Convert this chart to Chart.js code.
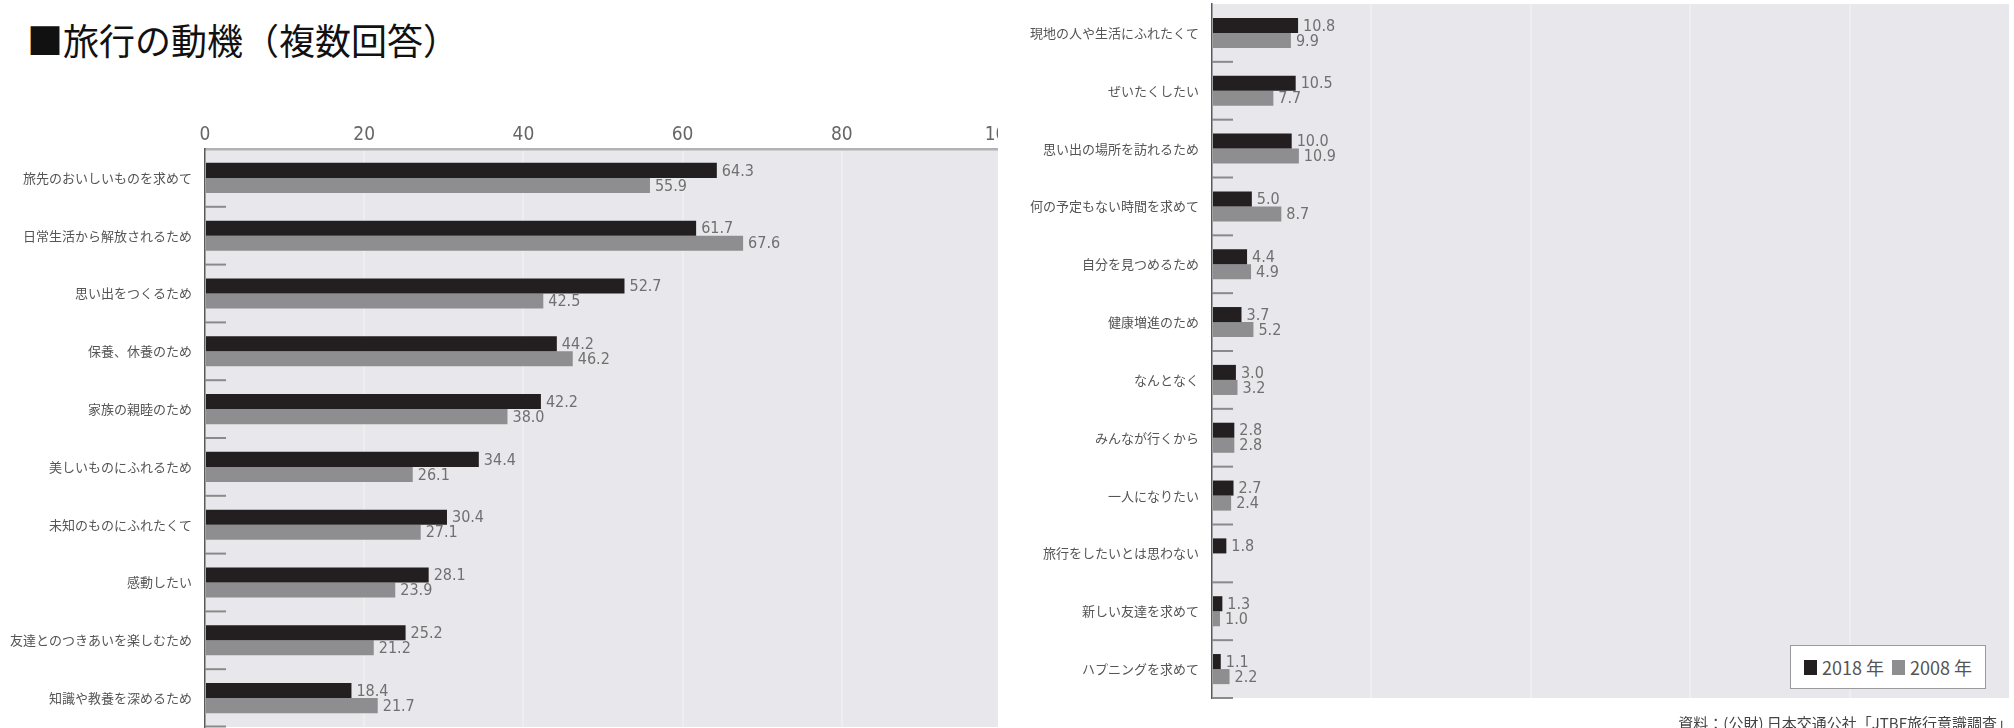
<!DOCTYPE html>
<html><head><meta charset="utf-8">
<script src="https://cdn.jsdelivr.net/npm/chart.js@4"></script>
<style>
html,body{margin:0;padding:0;background:#fff;width:2014px;height:728px;overflow:hidden;position:relative;font-family:"Noto Sans CJK JP",sans-serif;}
#title{position:absolute;left:27px;top:21px;font-size:36px;line-height:36px;font-weight:400;color:#111;white-space:nowrap;}
#leftWrap{position:absolute;left:0;top:0;width:998px;height:728px;overflow:hidden;}
#rightWrap{position:absolute;left:1000px;top:0;width:1014px;height:728px;}
#legend{position:absolute;left:1790px;top:645px;width:194px;height:42px;border:1px solid #9a9a9a;background:#fff;display:flex;align-items:center;justify-content:center;gap:8px;font-size:18px;color:#555;white-space:nowrap;}
#legend .it{display:flex;align-items:center;gap:5px;}
#legend .sw{display:inline-block;width:13px;height:15px;}
#source{position:absolute;right:2px;top:715px;font-size:15px;line-height:15px;color:#444;white-space:nowrap;}
</style></head><body>
<div id="title">■旅行の動機（複数回答）</div>
<div id="leftWrap"><canvas id="cL" width="1035" height="728"></canvas></div>
<div id="rightWrap"><canvas id="cR" width="1014" height="728"></canvas></div>
<div id="legend"></div>
<div id="source">資料：(公財) 日本交通公社「JTBF旅行意識調査」</div>
<script>
// ---- data ----
const leftCategories = ['旅先のおいしいものを求めて','日常生活から解放されるため','思い出をつくるため','保養、休養のため','家族の親睦のため','美しいものにふれるため','未知のものにふれたくて','感動したい','友達とのつきあいを楽しむため','知識や教養を深めるため'];
const left2018 = [64.3, 61.7, 52.7, 44.2, 42.2, 34.4, 30.4, 28.1, 25.2, 18.4];
const left2008 = [55.9, 67.6, 42.5, 46.2, 38.0, 26.1, 27.1, 23.9, 21.2, 21.7];
const rightCategories = ['現地の人や生活にふれたくて','ぜいたくしたい','思い出の場所を訪れるため','何の予定もない時間を求めて','自分を見つめるため','健康増進のため','なんとなく','みんなが行くから','一人になりたい','旅行をしたいとは思わない','新しい友達を求めて','ハプニングを求めて'];
const right2018 = [10.8, 10.5, 10.0, 5.0, 4.4, 3.7, 3.0, 2.8, 2.7, 1.8, 1.3, 1.1];
const right2008 = [9.9, 7.7, 10.9, 8.7, 4.9, 5.2, 3.2, 2.8, 2.4, null, 1.0, 2.2];
const seriesNames = ['2018 年', '2008 年'];
const xTickValues = [0, 20, 40, 60, 80, 100];

// ---- styles ----
const seriesColors = ['#231f20', '#8e8e91'];
const numFont = '"Liberation Sans Narrow","DejaVu Sans Condensed","Noto Sans",sans-serif';
const jpFont = '"Noto Sans CJK JP",sans-serif';

const bgPlugin = {
  id: 'plotBg',
  beforeDraw(chart) {
    const {ctx, chartArea: a} = chart;
    ctx.save();
    ctx.fillStyle = '#e8e8ec';
    ctx.fillRect(a.left, a.top, a.right - a.left, a.bottom - a.top);
    ctx.restore();
  }
};
const dashPlugin = {
  id: 'catDashes',
  beforeDatasetsDraw(chart) {
    const {ctx} = chart;
    const ys = chart.scales.y;
    const n = ys.getLabels().length;
    const band = (ys.bottom - ys.top) / n;
    ctx.save();
    ctx.strokeStyle = '#8a8a8a';
    ctx.lineWidth = 2;
    for (let i = 1; i <= n; i++) {
      const y = Math.min(ys.top + band * i, chart.height - 1.5);
      ctx.beginPath();
      ctx.moveTo(ys.right, y);
      ctx.lineTo(ys.right + 21, y);
      ctx.stroke();
    }
    ctx.restore();
  }
};
const valuePlugin = {
  id: 'values',
  afterDatasetsDraw(chart) {
    const {ctx} = chart;
    ctx.save();
    ctx.font = '16px ' + numFont;
    ctx.fillStyle = '#707070';
    ctx.textAlign = 'left';
    ctx.textBaseline = 'middle';
    chart.data.datasets.forEach((ds, di) => {
      const meta = chart.getDatasetMeta(di);
      meta.data.forEach((el, i) => {
        const v = ds.data[i];
        if (v === null || v === undefined) return;
        ctx.fillText(v.toFixed(1), el.x + 5, el.y + 1);
      });
    });
    ctx.restore();
  }
};

function makeChart(id, cats, a, b, cfg) {
  return new Chart(document.getElementById(id), {
    type: 'bar',
    data: {
      labels: cats,
      datasets: [
        {label: seriesNames[0], data: a, backgroundColor: seriesColors[0]},
        {label: seriesNames[1], data: b, backgroundColor: seriesColors[1]}
      ]
    },
    options: {
      indexAxis: 'y',
      responsive: false,
      animation: false,
      devicePixelRatio: 1,
      categoryPercentage: 0.52,
      barPercentage: 1.0,
      layout: {padding: cfg.padding},
      plugins: {legend: {display: false}, tooltip: {enabled: false}},
      scales: {
        x: {
          type: 'linear', position: 'top', min: 0, max: 100,
          afterBuildTicks: s => { s.ticks = xTickValues.map(v => ({value: v})); },
          afterFit: s => { s.height = cfg.xHeight; s.paddingLeft = 0; s.paddingRight = 0; },
          ticks: {display: cfg.showTicks, color: '#666', padding: 3, font: {family: numFont, size: 19}},
          grid: {
            drawTicks: false, lineWidth: 2,
            color: c => (c.tick && (c.tick.value === 0 || c.tick.value === 100)) ? 'rgba(0,0,0,0)' : '#eeeef1'
          },
          border: {display: cfg.showTopBorder, color: '#b2b2b2', width: 2.5}
        },
        y: {
          afterFit: s => { s.width = cfg.yWidth; s.paddingTop = 0; s.paddingBottom = 0; },
          ticks: {color: '#555', padding: 13, font: {family: jpFont, size: 13}},
          grid: {display: false, drawTicks: false},
          border: {display: true, color: '#5a5a5a', width: 1.5}
        }
      }
    },
    plugins: [bgPlugin, dashPlugin, valuePlugin]
  });
}

makeChart('cL', leftCategories, left2018, left2008, {
  padding: {left: 0, right: 34, top: 0, bottom: 1},
  xHeight: 149, yWidth: 205, showTicks: true, showTopBorder: true
});
makeChart('cR', rightCategories, right2018, right2008, {
  padding: {left: 0, right: 5, top: 4, bottom: 30},
  xHeight: 0, yWidth: 212, showTicks: false, showTopBorder: false
});

// legend built from series names
const lg = document.getElementById('legend');
seriesNames.forEach((n, i) => {
  const it = document.createElement('span');
  it.className = 'it';
  const sw = document.createElement('span');
  sw.className = 'sw';
  sw.style.background = seriesColors[i];
  const tx = document.createElement('span');
  tx.textContent = n;
  it.appendChild(sw); it.appendChild(tx);
  lg.appendChild(it);
});
</script>
</body></html>
